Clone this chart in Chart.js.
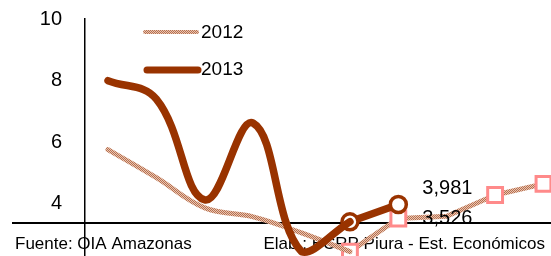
<!DOCTYPE html>
<html>
<head>
<meta charset="utf-8">
<script src="https://cdn.jsdelivr.net/npm/chart.js@4/dist/chart.umd.min.js"></script>
<style>
html,body{margin:0;padding:0;background:#fff;}
#wrap{width:551px;height:256px;position:relative;}
</style>
</head>
<body>
<div id="wrap"><canvas id="c" width="551" height="256"></canvas></div>
<script>
// ---- data ----
const categories = ["1","2","3","4","5","6","7","8","9","10"];
const values2012 = [5.76, 4.85, 3.87, 3.58, 3.06, 2.45, 3.526, 3.60, 4.29, 4.65];
const values2013 = [8.00, 7.40, 4.13, 6.62, 2.45, 3.42, 3.981];
const yTicks = [4, 6, 8, 10];
const seriesNames = ["2012", "2013"];
const pointLabels = [{series: "2013", index: 6, text: "3,981"}, {series: "2012", index: 6, text: "3,526"}];
const footLeft = "Fuente: OIA Amazonas";
const footRight = "Elab.: BCRP Piura - Est. Económicos";
const baseLineValue = 3.38;

const C2013 = "#993300";
const FONT = "'Liberation Sans', Arial, sans-serif";

// hatched pattern for 2012 line
const pc = document.createElement('canvas');
pc.width = 2; pc.height = 2;
const pctx = pc.getContext('2d');
pctx.fillStyle = '#e8c6b4'; pctx.fillRect(0,0,2,2);
pctx.fillStyle = '#b8704e'; pctx.fillRect(0,0,1,1); pctx.fillRect(1,1,1,1);
const ctx = document.getElementById('c').getContext('2d');
const pat2012 = ctx.createPattern(pc, 'repeat');

const toXY = (arr, from, to) => arr.slice(from, to).map((v, i) => ({x: from + i, y: v}));

const decor = {
  id: 'decor',
  beforeDatasetsDraw(chart) {
    const c = chart.ctx, y = chart.scales.y;
    c.save();
    // baseline
    c.strokeStyle = '#000'; c.lineWidth = 2;
    const by = Math.round(y.getPixelForValue(baseLineValue));
    c.beginPath(); c.moveTo(12, by); c.lineTo(551, by); c.stroke();
    // footer texts
    c.fillStyle = '#000';
    c.font = "17px " + FONT;
    c.textBaseline = 'alphabetic';
    c.textAlign = 'left';
    c.fillText(footLeft, 15, 249);
    c.textAlign = 'right';
    c.fillText(footRight, 545, 249);
    // legend
    c.lineCap = 'round';
    c.strokeStyle = pat2012; c.lineWidth = 4;
    c.beginPath(); c.moveTo(145, 32); c.lineTo(197, 32); c.stroke();
    c.strokeStyle = C2013; c.lineWidth = 7;
    c.beginPath(); c.moveTo(147, 70); c.lineTo(198, 70); c.stroke();
    c.fillStyle = '#000';
    c.font = "19px " + FONT;
    c.textAlign = 'left'; c.textBaseline = 'middle';
    c.fillText(seriesNames[0], 201, 33);
    c.fillText(seriesNames[1], 201, 70);
    c.restore();
  },
  afterDatasetsDraw(chart) {
    const c = chart.ctx, xs = chart.scales.x, ys = chart.scales.y;
    c.save();
    c.fillStyle = '#000';
    c.font = "20px " + FONT;
    c.textAlign = 'left'; c.textBaseline = 'middle';
    pointLabels.forEach(l => {
      const v = (l.series === "2013" ? values2013 : values2012)[l.index];
      const px = xs.getPixelForValue(l.index);
      const py = ys.getPixelForValue(v);
      const dy = l.series === "2013" ? -16 : 0;
      c.fillText(l.text, px + 24, py + dy);
    });
    c.restore();
  }
};

new Chart(ctx, {
  type: 'line',
  data: {
    labels: categories,
    datasets: [
      { label: seriesNames[1], data: toXY(values2013, 0, 6), borderColor: C2013, borderWidth: 7.5,
        tension: 0.4, pointRadius: 0, order: 0, borderCapStyle: 'round', borderJoinStyle: 'round' },
      { label: seriesNames[1], data: toXY(values2013, 5, 7), borderColor: C2013, borderWidth: 7.5,
        tension: 0, pointRadius: 8, pointBorderWidth: 3.5, pointBackgroundColor: '#fff',
        pointBorderColor: C2013, order: 0, borderCapStyle: 'round' },
      { label: seriesNames[0], data: toXY(values2012, 0, 6), borderColor: pat2012, borderWidth: 5,
        tension: 0.4, pointRadius: 0, order: 1, borderCapStyle: 'round', borderJoinStyle: 'round' },
      { label: seriesNames[0], data: toXY(values2012, 5, 10), borderColor: pat2012, borderWidth: 5,
        tension: 0, pointStyle: 'rect', pointRadius: [10.5, 10.5, 0, 10.5, 10.5],
        pointBorderWidth: 3, pointBackgroundColor: '#fff', pointBorderColor: '#ff8a8a', order: 1,
        borderJoinStyle: 'round' }
    ]
  },
  options: {
    responsive: false,
    animation: false,
    events: [],
    layout: { autoPadding: false, padding: { top: 19, right: 0, bottom: 0, left: 0 } },
    plugins: { legend: { display: false }, tooltip: { enabled: false } },
    scales: {
      x: { type: 'linear', min: -0.475, max: 9.155, display: false },
      y: {
        min: 2.31, max: 10,
        afterFit(s) { s.width = 85; s.paddingTop = 0; s.paddingBottom = 0; },
        afterBuildTicks(s) { s.ticks = yTicks.map(v => ({value: v})); },
        grid: { display: false, drawTicks: false },
        border: { display: true, color: '#000', width: 1.5 },
        ticks: { color: '#000', font: { family: FONT, size: 20 }, padding: 23 }
      }
    }
  },
  plugins: [decor]
});
</script>
</body>
</html>
